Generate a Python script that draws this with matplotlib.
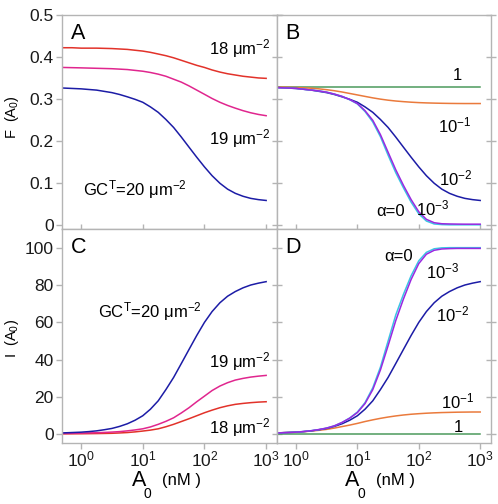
import numpy as np
import matplotlib
matplotlib.use("Agg")
import matplotlib.pyplot as plt

plt.rcParams['font.family'] = ['Liberation Sans', 'DejaVu Sans']
plt.rcParams['mathtext.fontset'] = 'custom'
plt.rcParams['mathtext.rm'] = 'Liberation Sans'
plt.rcParams['mathtext.it'] = 'Liberation Sans:italic'
plt.rcParams['mathtext.bf'] = 'Liberation Sans:bold'

# concentration A0 (nM)
a0 = [0.5, 0.71, 1, 1.33, 1.78, 2.37, 3.16, 4.22, 5.62, 7.5, 10, 13.3, 17.8, 23.7,
      31.6, 42.2, 56.2, 75, 100, 133, 178, 237, 316, 422, 562, 750, 1000]

# Panel A: F(A0) for GC^T = 18, 19, 20 um^-2
fA_18 = [.422, .422, .421, .421, .421, .4205, .420, .419, .418, .416, .414, .411, .407,
         .403, .398, .392, .386, .380, .375, .369, .364, .360, .357, .354, .352, .350, .349]
fA_19 = [.375, .3745, .374, .3735, .373, .3725, .372, .371, .370, .368, .366, .363, .359,
         .354, .347, .340, .331, .321, .311, .301, .292, .2845, .278, .272, .267, .263, .260]
fA_20 = [.326, .325, .324, .3225, .321, .318, .315, .3105, .305, .299, .292, .281, .268,
         .251, .232, .209, .185, .161, .138, .117, .099, .085, .075, .068, .063, .060, .058]

# Panel B: F(A0) for alpha = 1, 1e-1, 1e-2, 1e-3, 0
fB_1 = [.328] * 27
fB_m1 = [.328, .3278, .3272, .3265, .3255, .324, .322, .3195, .3165, .313, .3095, .306,
         .3025, .2995, .297, .295, .2935, .2922, .2912, .2905, .290, .2896, .2893, .2891,
         .289, .289, .289]
fB_m2 = [.327, .326, .325, .323, .321, .318, .315, .3105, .305, .299, .292, .281, .268,
         .251, .232, .209, .185, .161, .138, .117, .099, .085, .075, .068, .063, .060, .058]
fB_m3 = [.327, .326, .325, .323, .321, .319, .316, .3115, .306, .2985, .289, .272, .249,
         .215, .173, .131, .094, .060, .031, .013, .005, .0025, .002, .0017, .0015, .0015,
         .0015]
fB_0 = [.327, .326, .325, .323, .321, .319, .316, .3115, .306, .298, .288, .270, .245,
        .210, .166, .124, .088, .054, .026, .009, .002, .0005, 0, 0, 0, 0, 0]

# Panel C: I(A0) for GC^T = 18, 19, 20 um^-2
iC_18 = [.3, .32, .35, .4, .45, .52, .6, .78, 1.0, 1.35, 1.8, 2.3, 3.0, 4.1, 5.4, 6.9,
         8.4, 10.0, 11.6, 13.0, 14.3, 15.3, 16.1, 16.6, 17.0, 17.3, 17.5]
iC_19 = [.5, .6, .7, .8, .9, 1.05, 1.25, 1.5, 1.9, 2.4, 3.0, 4.0, 5.4, 7.0, 8.9, 11.5,
         14.3, 17.5, 20.5, 23.5, 25.9, 27.7, 29.1, 30.0, 30.7, 31.2, 31.6]
iC_20 = [.8, 1.0, 1.2, 1.5, 1.9, 2.5, 3.2, 4.3, 5.7, 7.6, 10, 13.5, 18, 24, 30.5, 38,
         45.5, 53, 60, 65.8, 70.5, 74, 76.5, 78.5, 80, 81, 81.8]

# Panel D: I(A0) for alpha = 1, 1e-1, 1e-2, 1e-3, 0
iD_1 = [0.3] * 27
iD_m1 = [.8, 1.0, 1.2, 1.45, 1.8, 2.2, 2.7, 3.4, 4.2, 5.0, 5.9, 6.9, 7.8, 8.6, 9.3,
         9.9, 10.4, 10.8, 11.1, 11.35, 11.55, 11.7, 11.8, 11.9, 11.95, 12, 12]
iD_m2 = [.8, 1.0, 1.2, 1.5, 1.9, 2.5, 3.2, 4.3, 5.7, 7.6, 10, 13.5, 18, 24, 30.5, 38,
         45.5, 53, 60, 65.8, 70.5, 74, 76.5, 78.5, 80, 81, 81.8]
iD_m3 = [.8, 1.0, 1.2, 1.55, 2.0, 2.6, 3.4, 4.6, 6.4, 8.7, 11.7, 16.5, 24, 34.5, 47.5,
         61, 72.5, 83, 91.5, 96.5, 98.6, 99.3, 99.5, 99.6, 99.6, 99.6, 99.6]
iD_0 = [.8, 1.0, 1.2, 1.55, 2.0, 2.6, 3.4, 4.6, 6.4, 8.8, 12, 17, 25, 36, 50, 64, 75,
        85, 93, 97.5, 99.4, 99.9, 100, 100, 100, 100, 100]

C_RED = '#e2322a'
C_MAG = '#e0268e'
C_BLUE = '#1c1ca6'
C_GREEN = '#4c9a5c'
C_ORANGE = '#ea7a3c'
C_CYAN = '#3cc4e4'
C_PURPLE = '#9a28e0'
SPINE = '#b4b4b4'
LW = 1.1

fig = plt.figure(figsize=(4.98, 5.04), dpi=100)
W, H = 498.0, 504.0
xl, xm, xr = 62, 277, 491
yt, ym, yb = 15, 229, 443


def mk(x0, x1, y0, y1):
    return fig.add_axes([x0 / W, 1 - y1 / H, (x1 - x0) / W, (y1 - y0) / H])


axA = mk(xl, xm, yt, ym)
axB = mk(xm, xr, yt, ym)
axC = mk(xl, xm, ym, yb)
axD = mk(xm, xr, ym, yb)

for ax in (axA, axB, axC, axD):
    ax.set_xscale('log')
    ax.set_xlim(0.49, 1500)
    ax.set_xticks([1, 10, 100, 1000])
    ax.minorticks_off()
    for s in ax.spines.values():
        s.set_color(SPINE)
        s.set_linewidth(1.0)
    ax.tick_params(colors=SPINE, labelcolor='#1a1a1a', labelsize=12.5, width=1.0)
    ax.tick_params(axis='y', which='both', right=True, direction='out', length=4, pad=2)
    ax.tick_params(axis='x', direction='out', length=4, pad=1)

for ax in (axA, axB):
    ax.set_ylim(-0.01, 0.5)
    ax.set_yticks([0, 0.1, 0.2, 0.3, 0.4, 0.5])
    ax.tick_params(axis='x', labelbottom=False, direction='inout', length=7)
for ax in (axC, axD):
    ax.set_ylim(-4.6, 110)
    ax.set_yticks([0, 20, 40, 60, 80, 100])
for ax in (axB, axD):
    ax.tick_params(axis='y', labelleft=False, direction='inout', length=7)
axA.set_yticklabels(['0', '0.1', '0.2', '0.3', '0.4', '0.5'])
axC.set_yticklabels(['0', '20', '40', '60', '80', '100'])

# Panel A
axA.plot(a0, fA_18, color=C_RED, lw=LW)
axA.plot(a0, fA_19, color=C_MAG, lw=LW)
axA.plot(a0, fA_20, color=C_BLUE, lw=LW)
axA.text(380, 0.42, r'18 μm$^{-2}$', fontsize=12, ha='center', va='center')
axA.text(380, 0.205, r'19 μm$^{-2}$', fontsize=12, ha='center', va='center')
axA.text(7.4, 0.083, r'GC$^{\mathrm{T}}$=20 μm$^{-2}$', fontsize=12, ha='center', va='center')

# Panel B
axB.plot(a0, fB_1, color=C_GREEN, lw=LW)
axB.plot(a0, fB_m1, color=C_ORANGE, lw=LW)
axB.plot(a0, fB_m2, color=C_BLUE, lw=LW)
axB.plot(a0, fB_0, color=C_CYAN, lw=LW)
axB.plot(a0, fB_m3, color=C_PURPLE, lw=LW)
axB.text(430, 0.357, '1', fontsize=12, ha='center', va='center')
axB.text(380, 0.236, r'10$^{-1}$', fontsize=12, ha='center', va='center')
axB.text(400, 0.111, r'10$^{-2}$', fontsize=12, ha='center', va='center')
axB.text(170, 0.040, r'10$^{-3}$', fontsize=12, ha='center', va='center')
axB.text(35, 0.031, 'α=0', fontsize=12, ha='center', va='center')

# Panel C
axC.plot(a0, iC_18, color=C_RED, lw=LW)
axC.plot(a0, iC_19, color=C_MAG, lw=LW)
axC.plot(a0, iC_20, color=C_BLUE, lw=LW)
axC.text(13, 66, r'GC$^{\mathrm{T}}$=20 μm$^{-2}$', fontsize=12, ha='center', va='center')
axC.text(380, 39, r'19 μm$^{-2}$', fontsize=12, ha='center', va='center')
axC.text(380, 3.7, r'18 μm$^{-2}$', fontsize=12, ha='center', va='center')

# Panel D
axD.plot(a0, iD_1, color=C_GREEN, lw=LW)
axD.plot(a0, iD_m1, color=C_ORANGE, lw=LW)
axD.plot(a0, iD_m2, color=C_BLUE, lw=LW)
axD.plot(a0, iD_0, color=C_CYAN, lw=LW)
axD.plot(a0, iD_m3, color=C_PURPLE, lw=LW)
axD.text(46, 95.4, 'α=0', fontsize=12, ha='center', va='center')
axD.text(245, 87, r'10$^{-3}$', fontsize=12, ha='center', va='center')
axD.text(355, 64, r'10$^{-2}$', fontsize=12, ha='center', va='center')
axD.text(430, 17.7, r'10$^{-1}$', fontsize=12, ha='center', va='center')
axD.text(445, 3.8, '1', fontsize=12, ha='center', va='center')

# Panel letters
for ax, lab in ((axA, 'A'), (axB, 'B'), (axC, 'C'), (axD, 'D')):
    ax.text(0.04, 0.915, lab, transform=ax.transAxes, fontsize=15.5,
            ha='left', va='center')

# axis labels
fig.text(12 / W, 1 - 117 / H, r'F  (A$_0$)', rotation=90, fontsize=10.5,
         ha='center', va='center')
fig.text(12 / W, 1 - 338 / H, r'I  (A$_0$)', rotation=90, fontsize=10.5,
         ha='center', va='center')
for xa, xs, xp in ((131.5, 143, 162), (345, 357, 376)):
    fig.text(xa / W, 1 - 485.5 / H, 'A', fontsize=15.5, ha='left', va='baseline')
    fig.text(xs / W, 1 - 498 / H, '0', fontsize=10, ha='left', va='baseline')
    fig.text(xp / W, 1 - 484.5 / H, '(nM )', fontsize=12, ha='left', va='baseline')

fig.savefig('out.png', dpi=100)
